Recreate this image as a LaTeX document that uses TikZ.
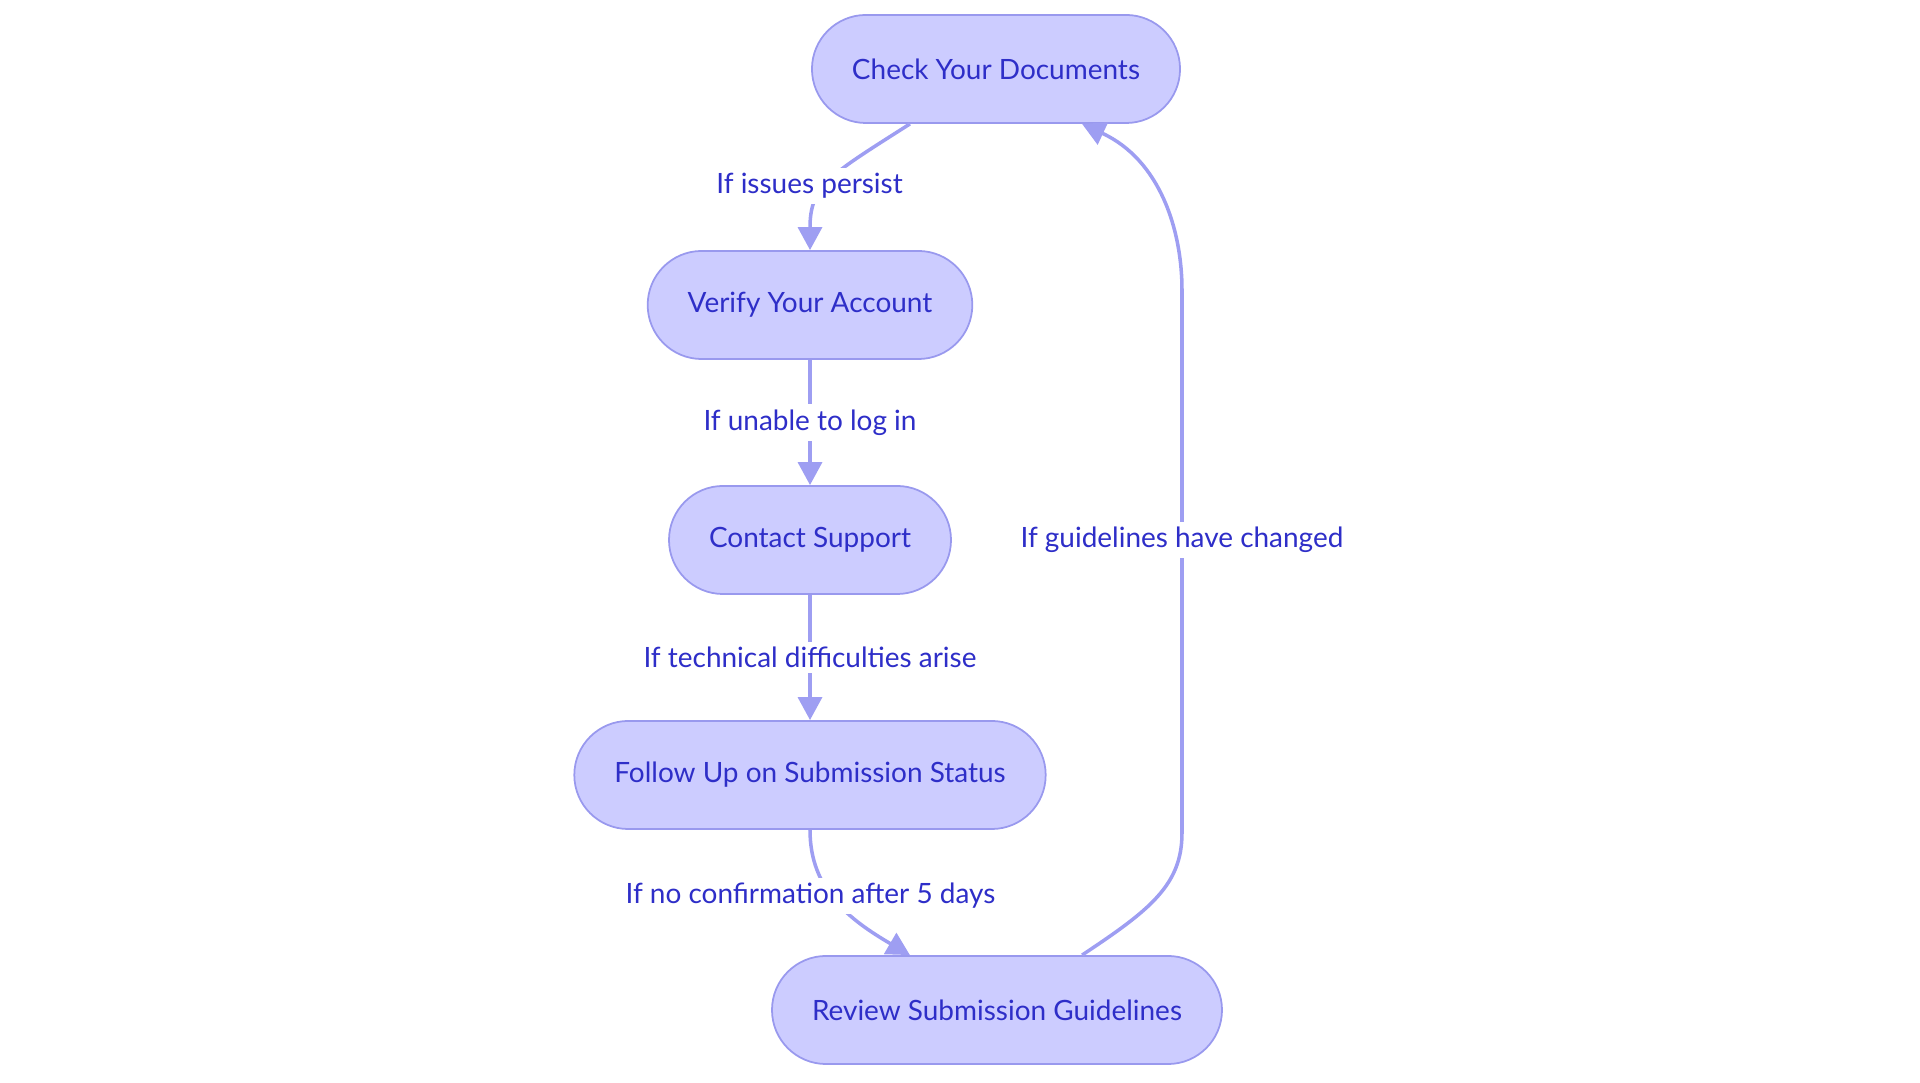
\documentclass[tikz,border=0pt]{standalone}
\usepackage{fontspec}
\setmainfont{Lato}
\usetikzlibrary{arrows.meta, positioning}

\definecolor{boxfill}{HTML}{CCCCFF}
\definecolor{boxline}{HTML}{9999EE}
\definecolor{edgeline}{HTML}{9E9EF2}
\definecolor{textblue}{HTML}{2E2EC8}

\begin{document}
\begin{tikzpicture}[x=0.01cm, y=-0.01cm,
    stepbox/.style={draw=boxline, line width=0.5pt, fill=boxfill, rounded corners=0.54cm,
        minimum height=1.08cm, inner xsep=0.4cm, text=textblue, font=\fontsize{7.95}{10}\selectfont},
    flow/.style={draw=edgeline, line width=1pt, -{Triangle[length=0.23cm, width=0.24cm]}},
    lbl/.style={fill=white, text=textblue, inner sep=1.5pt, font=\fontsize{7.95}{10}\selectfont}]
    % page frame
    \useasboundingbox (0,0) rectangle (1920,1083);
    % steps
    \node[stepbox] (check) at (996,69) {Check Your Documents};
    \node[stepbox] (verify) at (810,305) {Verify Your Account};
    \node[stepbox] (contact) at (810,540) {Contact Support};
    \node[stepbox] (follow) at (810,775) {Follow Up on Submission Status};
    \node[stepbox] (review) at (997,1010) {Review Submission Guidelines};
    % check -> verify
    \draw[flow] ([xshift=-0.86cm]check.south) .. controls (830,175) and (810,185) .. node[lbl, pos=0.54, xshift=-0.17cm] (persist) {If issues persist} (verify.north);
    % verify -> contact
    \draw[flow] (verify.south) -- node[lbl] (login) {If unable to log in} (contact.north);
    % contact -> follow
    \draw[flow] (contact.south) -- node[lbl] (trouble) {If technical difficulties arise} (follow.north);
    % follow -> review
    \draw[flow] (follow.south) .. controls (810,890) and (850,920) .. node[lbl, pos=0.45, xshift=-0.22cm] (nodays) {If no confirmation after 5 days} ([xshift=-0.87cm]review.north);
    % review -> check
    \draw[flow] ([xshift=0.85cm]review.north) .. controls (1150,910) and (1182,885) .. (1182,833)
        -- node[lbl, pos=0.54] (changed) {If guidelines have changed} (1182,290)
        .. controls (1182,230) and (1160,160) .. ([xshift=0.86cm]check.south);
\end{tikzpicture}
\end{document}
